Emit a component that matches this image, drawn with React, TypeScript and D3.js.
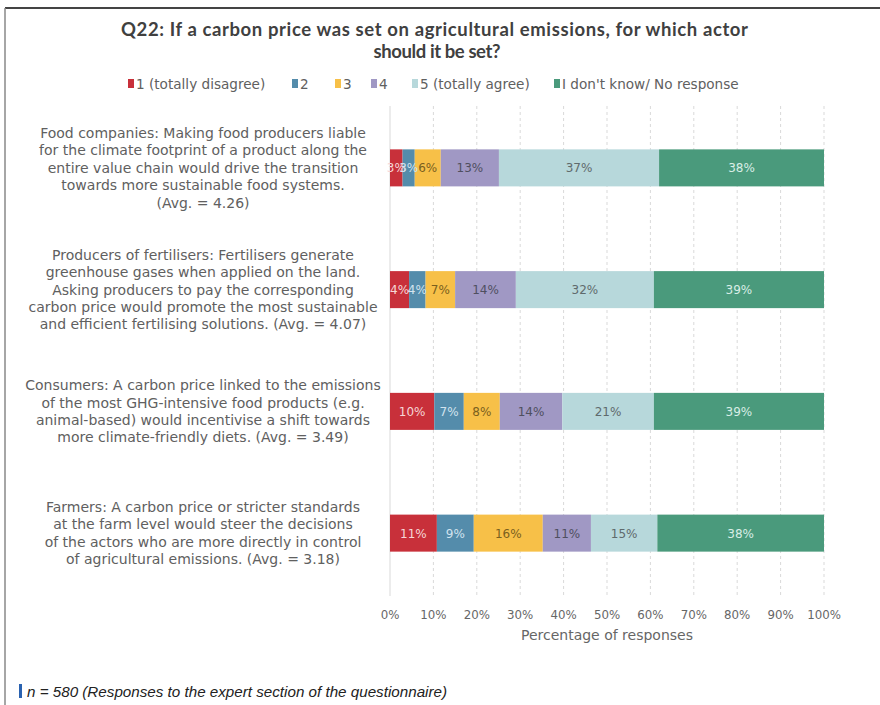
import React from "react";
import * as d3 from "d3";

const categories = [
  "Food companies",
  "Producers of fertilisers",
  "Consumers",
  "Farmers",
];

const categoryLines = [
  [
    "Food companies: Making food producers liable",
    "for the climate footprint of a product along the",
    "entire value chain would drive the transition",
    "towards more sustainable food systems.",
    "(Avg. = 4.26)",
  ],
  [
    "Producers of fertilisers: Fertilisers generate",
    "greenhouse gases when applied on the land.",
    "Asking producers to pay the corresponding",
    "carbon price would promote the most sustainable",
    "and efficient fertilising solutions. (Avg. = 4.07)",
  ],
  [
    "Consumers: A carbon price linked to the emissions",
    "of the most GHG-intensive food products (e.g.",
    "animal-based) would incentivise a shift towards",
    "more climate-friendly diets. (Avg. = 3.49)",
  ],
  [
    "Farmers: A carbon price or stricter standards",
    "at the farm level would steer the decisions",
    "of the actors who are more directly in control",
    "of agricultural emissions. (Avg. = 3.18)",
  ],
];

const seriesNames = [
  "1 (totally disagree)",
  "2",
  "3",
  "4",
  "5 (totally agree)",
  "I don't know/ No response",
];

// values per series, in category order
const s1 = [2.9, 4.4, 10.2, 10.8];
const s2 = [2.8, 3.8, 6.8, 8.5];
const s3 = [6.0, 6.8, 8.3, 15.9];
const s4 = [13.4, 14.0, 14.4, 11.1];
const s5 = [36.9, 31.8, 21.1, 15.3];
const s6 = [38.0, 39.2, 39.2, 38.4];
const seriesValues = [s1, s2, s3, s4, s5, s6];

const segLabels = [
  ["3%", "3%", "6%", "13%", "37%", "38%"],
  ["4%", "4%", "7%", "14%", "32%", "39%"],
  ["10%", "7%", "8%", "14%", "21%", "39%"],
  ["11%", "9%", "16%", "11%", "15%", "38%"],
];

const xTicks = [0, 10, 20, 30, 40, 50, 60, 70, 80, 90, 100];

const colors = ["#c8303a", "#548cab", "#f7c048", "#a098c4", "#b7d8db", "#4a9a7c"];
const labelColors = ["#f6d6d6", "#d2e3ee", "#7a5f1e", "#4f4f5f", "#5f6a6c", "#d9eee6"];

const BODY = "'DejaVu Sans', sans-serif";
const TITLE = "Lato, 'Open Sans', sans-serif";

export default function App() {
  const W = 880;
  const H = 705;
  const x = d3.scaleLinear().domain([0, 100]).range([390, 824]);
  const y = d3
    .scaleBand<string>()
    .domain(categories)
    .range([107, 594])
    .paddingInner(0.696)
    .paddingOuter(0.348);

  const stack = categories.map((c, ci) => {
    let acc = 0;
    return seriesValues.map((s, si) => {
      const x0 = acc;
      acc += s[ci];
      return { si, x0, x1: acc, label: segLabels[ci][si] };
    });
  });

  const legendX = [128, 292, 335, 371, 412, 554];

  return (
    <svg
      width={W}
      height={H}
      style={{ position: "absolute", left: 0, top: 0, background: "#fff" }}
    >
      {/* frame */}
      <line x1={5} y1={8} x2={880} y2={8} stroke="#444" strokeWidth={2} />
      <line x1={5} y1={8} x2={5} y2={705} stroke="#888" strokeWidth={1.5} />

      {/* title */}
      <text
        x={434.5}
        y={36}
        textAnchor="middle"
        fontFamily={TITLE}
        fontSize={18.5}
        fontWeight={700}
        fill="#404040"
        textLength={627}
        lengthAdjust="spacing"
      >
        Q22: If a carbon price was set on agricultural emissions, for which actor
      </text>
      <text
        x={437}
        y={58}
        textAnchor="middle"
        fontFamily={TITLE}
        fontSize={18.5}
        fontWeight={700}
        fill="#404040"
        textLength={127}
        lengthAdjust="spacing"
      >
        should it be set?
      </text>

      {/* legend */}
      {seriesNames.map((n, i) => (
        <g key={n}>
          <rect x={legendX[i]} y={79} width={6} height={9} fill={colors[i]} />
          <text
            x={legendX[i] + 8}
            y={89}
            fontFamily={BODY}
            fontSize={13.6}
            fill="#606060"
          >
            {n}
          </text>
        </g>
      ))}

      {/* gridlines */}
      {xTicks.map((t) => (
        <line
          key={t}
          x1={x(t)}
          x2={x(t)}
          y1={106}
          y2={596}
          stroke="#d9d9d9"
          strokeWidth={1}
          strokeDasharray={t === 0 ? undefined : "3,3"}
        />
      ))}

      {/* bars */}
      {categories.map((c, ci) => {
        const by = y(c)!;
        const bh = y.bandwidth();
        return (
          <g key={c}>
            {stack[ci].map((seg) => (
              <rect
                key={seg.si}
                x={x(seg.x0)}
                y={by}
                width={x(seg.x1) - x(seg.x0)}
                height={bh}
                fill={colors[seg.si]}
              />
            ))}
            {stack[ci].map((seg) => (
              <text
                key={"t" + seg.si}
                x={(x(seg.x0) + x(seg.x1)) / 2}
                y={by + bh / 2 + 4.5}
                textAnchor="middle"
                fontFamily={BODY}
                fontSize={12}
                fill={labelColors[seg.si]}
              >
                {seg.label}
              </text>
            ))}
          </g>
        );
      })}

      {/* category labels */}
      {categories.map((c, ci) => {
        const lines = categoryLines[ci];
        const cy = y(c)! + y.bandwidth() / 2;
        const lh = 17.4;
        const top = cy - ((lines.length - 1) * lh) / 2;
        return (
          <text
            key={"l" + c}
            textAnchor="middle"
            fontFamily={BODY}
            fontSize={14}
            fill="#606060"
          >
            {lines.map((l, li) => (
              <tspan key={li} x={203} y={top + li * lh + 5}>
                {l}
              </tspan>
            ))}
          </text>
        );
      })}

      {/* x tick labels */}
      {xTicks.map((t) => (
        <text
          key={"x" + t}
          x={x(t)}
          y={619}
          textAnchor="middle"
          fontFamily={BODY}
          fontSize={11.8}
          fill="#666"
        >
          {t + "%"}
        </text>
      ))}
      <text
        x={607}
        y={640}
        textAnchor="middle"
        fontFamily={BODY}
        fontSize={14}
        fill="#666"
      >
        Percentage of responses
      </text>

      {/* footnote */}
      <rect x={19} y={684} width={3} height={14} fill="#2a62b0" />
      <text
        x={27}
        y={697}
        fontFamily="'Liberation Sans', Arial, sans-serif"
        fontStyle="italic"
        fontSize={15.2}
        fill="#222"
      >
        n = 580 (Responses to the expert section of the questionnaire)
      </text>
    </svg>
  );
}
